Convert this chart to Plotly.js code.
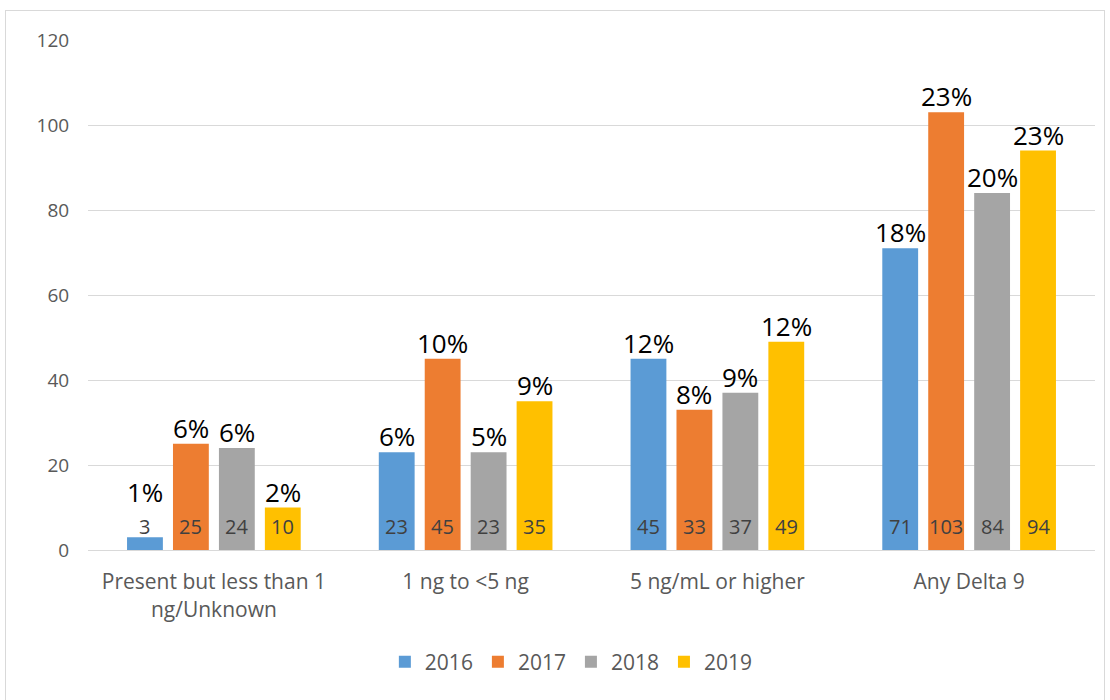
<!DOCTYPE html>
<html>
<head>
<meta charset="utf-8">
<script src="https://cdn.plot.ly/plotly-3.0.1.min.js"></script>
<style>
  body { margin: 0; background: #fff; }
  #frame { position: absolute; left: 5px; top: 10px; width: 1100px; height: 700px; border: 1px solid #d9d9d9; box-sizing: border-box; }
  #chart { position: absolute; left: 0; top: 0; width: 1110px; height: 700px; }
</style>
</head>
<body>
<div id="frame"></div>
<div id="chart"></div>
<script>
const categories = ["Present but less than 1<br>ng/Unknown", "1 ng to <5 ng", "5 ng/mL or higher", "Any Delta 9"];
const years = ["2016", "2017", "2018", "2019"];
const counts = [
  [3, 23, 45, 71],
  [25, 45, 33, 103],
  [24, 23, 37, 84],
  [10, 35, 49, 94],
];
const percents = [
  ["1%", "6%", "12%", "18%"],
  ["6%", "10%", "8%", "23%"],
  ["6%", "5%", "9%", "20%"],
  ["2%", "9%", "12%", "23%"],
];
const colors = ["#5B9BD5", "#ED7D31", "#A5A5A5", "#FFC000"];

const font = "'Open Sans', sans-serif";
const slot = 46; // px between neighbouring bars in a group
const pxPerUnit = 510 / 120; // plot height / y range

const traces = years.map((year, i) => ({
  type: "bar",
  name: year,
  x: categories,
  y: counts[i],
  marker: { color: colors[i] },
  hoverinfo: "x+y+name",
}));

const annotations = [];
years.forEach((year, i) => {
  categories.forEach((cat, j) => {
    // count near the base of the bar
    annotations.push({
      x: cat,
      y: 0,
      text: String(counts[i][j]),
      showarrow: false,
      xshift: (i - 1.5) * slot,
      yanchor: "bottom",
      yshift: 8,
      font: { family: font, size: 20, color: "#404040" },
    });
    // share above the bar, lifted clear of the count when the bar is short
    const barPx = counts[i][j] * pxPerUnit;
    annotations.push({
      x: cat,
      y: counts[i][j],
      text: percents[i][j],
      showarrow: false,
      xshift: (i - 1.5) * slot,
      yanchor: "bottom",
      yshift: Math.max(-4, 38 - barPx),
      font: { family: font, size: 26, color: "#000" },
    });
  });
});

Plotly.newPlot(
  "chart",
  traces,
  {
    width: 1110,
    height: 700,
    margin: { l: 88, r: 15, t: 40, b: 150 },
    barmode: "group",
    bargap: 0.27,
    bargroupgap: 0.22,
    paper_bgcolor: "rgba(0,0,0,0)",
    plot_bgcolor: "rgba(0,0,0,0)",
    font: { family: font, size: 18, color: "#595959" },
    xaxis: {
      type: "category",
      showgrid: false,
      ticks: "outside",
      ticklen: 13,
      tickcolor: "rgba(0,0,0,0)",
      tickfont: { family: font, size: 21, color: "#595959" },
      automargin: false,
    },
    yaxis: {
      range: [0, 120],
      dtick: 20,
      showgrid: true,
      gridcolor: "#d9d9d9",
      gridwidth: 1,
      zeroline: true,
      zerolinecolor: "#d9d9d9",
      ticks: "outside",
      ticklen: 14,
      tickcolor: "rgba(0,0,0,0)",
      tickfont: { family: font, size: 19, color: "#595959" },
      automargin: false,
    },
    legend: {
      orientation: "h",
      x: 0.48,
      xanchor: "center",
      y: -0.22,
      yanchor: "middle",
      font: { family: font, size: 21, color: "#595959" },
    },
    annotations,
  },
  { displayModeBar: false },
);
</script>
</body>
</html>
